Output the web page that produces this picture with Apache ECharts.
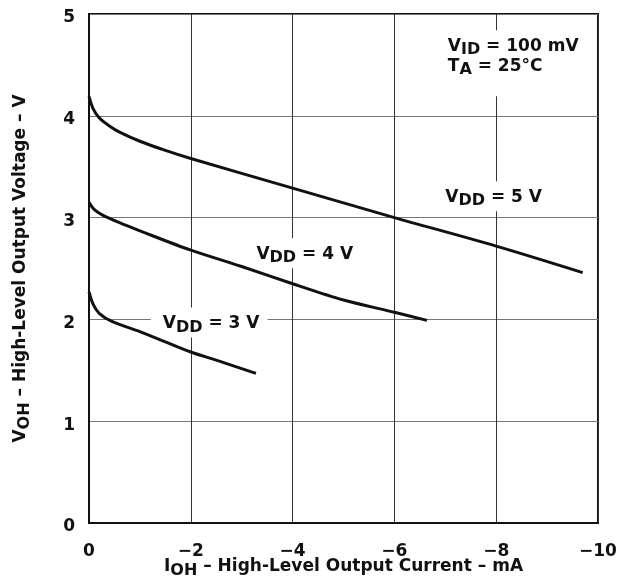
<!DOCTYPE html>
<html>
<head>
<meta charset="utf-8">
<script src="https://cdn.jsdelivr.net/npm/echarts@6/dist/echarts.min.js"></script>
<style>html,body{margin:0;padding:0;background:#fff}#c{width:620px;height:584px}</style>
</head>
<body>
<div id="c"></div>
<script>
var xTicks = [0, -2, -4, -6, -8, -10];
var yTicks = [0, 1, 2, 3, 4, 5];
var vdd5 = [[0,4.19],[-0.08,4.07],[-0.2,3.98],[-0.4,3.9],[-0.6,3.84],[-1,3.75],[-1.5,3.66],[-2,3.58],[-4,3.29],[-6,3.0],[-8,2.72],[-9.7,2.46]];
var vdd4 = [[0,3.15],[-0.1,3.08],[-0.25,3.03],[-0.6,2.95],[-1,2.87],[-2,2.68],[-3,2.52],[-4,2.35],[-5,2.19],[-6,2.07],[-6.64,1.99]];
var vdd3 = [[0,2.27],[-0.08,2.15],[-0.2,2.06],[-0.45,1.98],[-1,1.88],[-1.5,1.78],[-2,1.68],[-2.5,1.6],[-3.28,1.47]];
var labels = [
  {coord:[-7.91,3.21], sub:'DD', text:' = 5 V'},
  {coord:[-4.20,2.65], sub:'DD', text:' = 4 V'},
  {coord:[-2.36,1.97], sub:'DD', text:' = 3 V'}
];
var conditions = ['{m|V}{s|ID}{m| = 100 mV}', '{m|T}{s|A}{m| = 25\u00b0C}'];
var F = '"DejaVu Sans", Verdana, sans-serif';
var rich = {
  m:{fontFamily:F,fontWeight:'bold',fontSize:17,color:'#111',lineHeight:20},
  s:{fontFamily:F,fontWeight:'bold',fontSize:16,color:'#111',lineHeight:20,padding:[8,0,0,0]}
};
function mk(l){
  return {coord:l.coord, symbol:'circle', symbolSize:0,
    label:{show:true, position:'inside', formatter:'{m|V}{s|'+l.sub+'}{m|'+l.text+'}', rich:rich,
      backgroundColor:'#fff', padding:[6,8,4,12]}};
}
var chart = echarts.init(document.getElementById('c'));
function lineSeries(data){
  return {type:'line', data:data, smooth:0.3, symbol:'none', lineStyle:{color:'#111',width:3}, z:5};
}
var titleRich = {
  m:{fontFamily:F,fontWeight:'bold',fontSize:17,color:'#111',lineHeight:20},
  s:{fontFamily:F,fontWeight:'bold',fontSize:16,color:'#111',lineHeight:20,padding:[8,0,0,0]}
};
var markData = labels.map(mk);
markData.push({coord:[-6.99,4.84], symbol:'circle', symbolSize:0,
  label:{show:true, position:'right', offset:[-6,0],
    formatter:conditions.join('\n'), rich:rich,
    backgroundColor:'#fff', padding:[6,4,20,4], verticalAlign:'top'}});
chart.setOption({
  animation:false,
  backgroundColor:'#fff',
  grid:{left:89,right:22,top:14,bottom:61,containLabel:false,outerBoundsMode:'none',show:true,borderColor:'#111',borderWidth:2,backgroundColor:'transparent'},
  xAxis:{type:'value',min:-10,max:0,interval:2,inverse:true,
    axisLine:{show:true,lineStyle:{color:'#111',width:2}},
    axisTick:{show:false},
    splitLine:{show:true,lineStyle:{color:'#333',width:1}},
    axisLabel:{margin:20,fontFamily:F,fontWeight:'bold',fontSize:17,color:'#111',
      formatter:function(v){return String(v).replace('-','\u2212');}},
    name:'{m|I}{s|OH}{m| \u2013 High-Level Output Current \u2013 mA}',
    nameLocation:'middle', nameGap:34, nameMoveOverlap:false,
    nameTextStyle:{rich:titleRich}
  },
  yAxis:{type:'value',min:0,max:5,interval:1,
    axisLine:{show:true,lineStyle:{color:'#111',width:2}},
    axisTick:{show:false},
    splitLine:{show:true,lineStyle:{color:'#777',width:1}},
    axisLabel:{margin:14,fontFamily:F,fontWeight:'bold',fontSize:17,color:'#111',
      verticalAlign:'top', lineHeight:8},
    name:'{m|V}{s|OH}{m| \u2013 High-Level Output Voltage \u2013 V}',
    nameLocation:'middle', nameGap:58, nameMoveOverlap:false,
    nameTextStyle:{rich:titleRich}
  },
  series:[
    lineSeries(vdd5),
    lineSeries(vdd4),
    lineSeries(vdd3),
    {type:'scatter', data:[], z:2, markPoint:{silent:true, z:2, data:markData}}
  ]
});
</script>
</body>
</html>
